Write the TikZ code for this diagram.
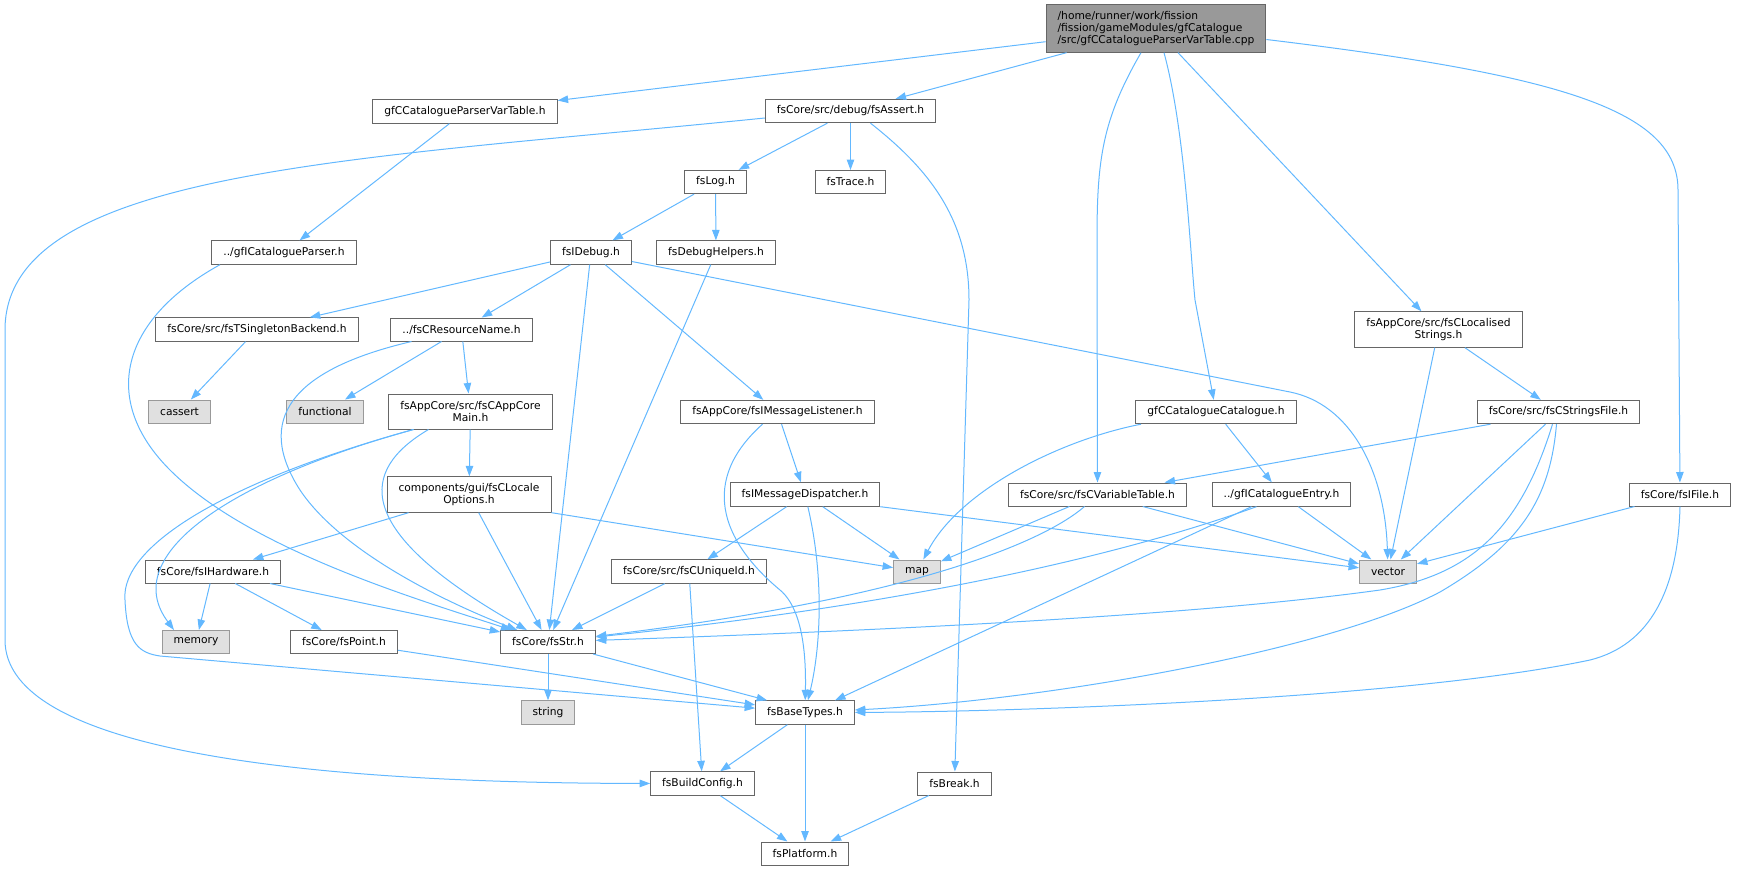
\documentclass[tikz,border=0pt]{standalone}
\usepackage{fontspec}
\setmainfont{DejaVu Sans}
\usepackage{tikz}
\usetikzlibrary{arrows.meta}
\usetikzlibrary{positioning}
\definecolor{edgeblue}{HTML}{63B8FF}
\definecolor{nodegray}{HTML}{666666}
\definecolor{extgray}{HTML}{999999}
\definecolor{extfill}{HTML}{E0E0E0}
\definecolor{rootfill}{HTML}{999999}
\tikzstyle{file_node}=[rectangle, draw=nodegray, fill=white, line width=1pt,
    inner xsep=11.5pt, inner ysep=6.5pt, minimum height=23pt, align=center,
    font=\fontsize{10.7pt}{12pt}\selectfont]
\tikzstyle{file_ext}=[file_node, draw=extgray, fill=extfill]
\tikzstyle{file_root}=[file_node, draw=nodegray, fill=rootfill, align=left]
\tikzstyle{two_lines}=[minimum height=35pt]
\tikzstyle{incl}=[draw=edgeblue, line width=1pt, -{Triangle[length=10.5pt,width=7.5pt]}]

\begin{document}
\begin{tikzpicture}[x=1pt, y=-1pt]
          \useasboundingbox (0,0) rectangle (1737,871);
          \node[file_root] (root) at (1156,28.5){/home/runner/work/fission\\/fission/gameModules/gfCatalogue\\/src/gfCCatalogueParserVarTable.cpp};
          \node[file_node] (pvt) at (465,111.5){gfCCatalogueParserVarTable.h};
          \node[file_node] (assert) at (850.5,111){fsCore/src/debug/fsAssert.h};
          \node[file_node] (log) at (715.5,182){fsLog.h};
          \node[file_node] (trace) at (850.5,182){fsTrace.h};
          \node[file_node] (parser) at (284,252.5){../gfICatalogueParser.h};
          \node[file_node] (idebug) at (591,252.5){fsIDebug.h};
          \node[file_node] (dbghelp) at (716,252.5){fsDebugHelpers.h};
          \node[file_node] (singleton) at (257,329.5){fsCore/src/fsTSingletonBackend.h};
          \node[file_node] (resname) at (461.5,329.5){../fsCResourceName.h};
          \node[file_node, two_lines] (localised) at (1438.5,329.5){fsAppCore/src/fsCLocalised\\Strings.h};
          \node[file_ext] (cassert) at (179.5,411.5){cassert};
          \node[file_ext] (functional) at (325,411.5){functional};
          \node[file_node, two_lines] (appcore) at (470.5,411.5){fsAppCore/src/fsCAppCore\\Main.h};
          \node[file_node] (listener) at (777.5,412){fsAppCore/fsIMessageListener.h};
          \node[file_node] (catalogue) at (1216,412){gfCCatalogueCatalogue.h};
          \node[file_node] (stringsfile) at (1558.5,412){fsCore/src/fsCStringsFile.h};
          \node[file_node, two_lines] (locopts) at (469,494.5){components/gui/fsCLocale\\Options.h};
          \node[file_node] (dispatcher) at (805,494.5){fsIMessageDispatcher.h};
          \node[file_node] (vartable) at (1097.5,494.5){fsCore/src/fsCVariableTable.h};
          \node[file_node] (entry) at (1281.5,494.5){../gfICatalogueEntry.h};
          \node[file_node] (ifile) at (1680,494.5){fsCore/fsIFile.h};
          \node[file_node] (hardware) at (213,571.5){fsCore/fsIHardware.h};
          \node[file_node] (uniqueid) at (689,571.5){fsCore/src/fsCUniqueId.h};
          \node[file_ext] (map) at (917,571.5){map};
          \node[file_ext] (vector) at (1388,571.5){vector};
          \node[file_ext] (memory) at (196,642){memory};
          \node[file_node] (point) at (344,642){fsCore/fsPoint.h};
          \node[file_node] (str) at (548,642){fsCore/fsStr.h};
          \node[file_ext] (string) at (548,712.5){string};
          \node[file_node] (basetypes) at (805,712.5){fsBaseTypes.h};
          \node[file_node] (buildconfig) at (702.5,783.5){fsBuildConfig.h};
          \node[file_node] (brk) at (954.5,783.5){fsBreak.h};
          \node[file_node] (platform) at (805,853.5){fsPlatform.h};
          \draw[incl](root) -- (pvt);
          \draw[incl](root) -- (assert);
          \draw[incl]([xshift=-15pt]root.south) .. controls (1102,120) and (1097,160) .. (1097,240) -- (vartable);
          \draw[incl]([xshift=8pt]root.south) .. controls (1185,130) and (1190,250) .. (1195,300) -- (catalogue);
          \draw[incl]([xshift=22pt]root.south) -- (localised);
          \draw[incl]([yshift=-11pt]root.east) .. controls (1560,75) and (1678,110) .. (1678,190) -- (ifile);
          \draw[incl](assert) -- (log);
          \draw[incl](assert) -- (trace);
          \draw[incl]([xshift=20pt]assert.south) .. controls (930,170) and (969,220) .. (969,300) -- (brk);
          \draw[incl]([yshift=-7pt]assert.west) .. controls (350,160) and (5,170) .. (5,330) -- (5,640) .. controls (5,740) and (250,783) .. (buildconfig);
          \draw[incl](pvt) -- (parser);
          \draw[incl]([xshift=-64pt]parser.south) .. controls (120,320) and (100,400) .. (170,470) .. controls (250,550) and (420,600) .. (str);
          \draw[incl](log) -- (idebug);
          \draw[incl](log) -- (dbghelp);
          \draw[incl](dbghelp) -- (str);
          \draw[incl](idebug) -- (singleton);
          \draw[incl](idebug) -- (resname);
          \draw[incl](idebug) -- (str);
          \draw[incl](idebug) -- (listener);
          \draw[incl]([yshift=-9pt]idebug.east) -- (1290,392) .. controls (1350,404) and (1385,470) .. (vector);
          \draw[incl](singleton) -- (cassert);
          \draw[incl](resname) -- (functional);
          \draw[incl](resname) -- (appcore);
          \draw[incl]([xshift=-50pt]resname.south) .. controls (290,370) and (255,420) .. (300,490) .. controls (340,550) and (440,600) .. (str);
          \draw[incl](appcore) -- (locopts);
          \draw[incl]([xshift=-57pt]appcore.south) .. controls (230,480) and (118,555) .. ([xshift=-22pt]memory.north);
          \draw[incl]([xshift=-57pt]appcore.south) .. controls (230,480) and (120,545) .. (125,600) .. controls (127,645) and (140,653) .. (160,656) -- (basetypes);
          \draw[incl]([xshift=-42pt]appcore.south) .. controls (360,470) and (350,530) .. (str);
          \draw[incl](locopts) -- (hardware);
          \draw[incl](locopts) -- (str);
          \draw[incl](locopts.south east) -- (map);
          \draw[incl](hardware) -- (memory);
          \draw[incl](hardware) -- (point);
          \draw[incl](hardware) -- (str);
          \draw[incl](listener) -- (dispatcher);
          \draw[incl]([xshift=-15pt]listener.south) .. controls (700,480) and (720,540) .. (780,590) .. controls (804,610) and (806,660) .. (basetypes);
          \draw[incl](dispatcher) -- (uniqueid);
          \draw[incl](dispatcher) .. controls (825,580) and (820,650) .. (basetypes);
          \draw[incl](dispatcher) -- (map);
          \draw[incl](dispatcher.south east) -- (vector);
          \draw[incl](uniqueid) -- (str);
          \draw[incl](uniqueid) -- (buildconfig);
          \draw[incl](point) -- (basetypes);
          \draw[incl](str) -- (string);
          \draw[incl](str) -- ([xshift=12pt]basetypes.north west);
          \draw[incl](basetypes) -- (buildconfig);
          \draw[incl](basetypes) -- (platform);
          \draw[incl](buildconfig) -- (platform);
          \draw[incl](brk) -- (platform);
          \draw[incl]([xshift=-75pt]catalogue.south) .. controls (1060,440) and (960,490) .. (map);
          \draw[incl](catalogue) -- (entry);
          \draw[incl](vartable) -- (map);
          \draw[incl]([xshift=-13pt]vartable.south) .. controls (1040,545) and (900,600) .. (str);
          \draw[incl](vartable) -- (vector);
          \draw[incl](entry) -- (vector);
          \draw[incl]([xshift=-25pt]entry.south) .. controls (1150,545) and (950,600) .. (str);
          \draw[incl]([xshift=-30pt]entry.south) -- ([xshift=30pt]basetypes.north);
          \draw[incl](stringsfile) -- (vartable);
          \draw[incl](stringsfile) -- (vector);
          \draw[incl]([xshift=-6pt]stringsfile.south) .. controls (1520,530) and (1470,575) .. (1380,590) .. controls (1200,615) and (900,630) .. (str);
          \draw[incl]([xshift=-2pt]stringsfile.south) .. controls (1550,500) and (1520,545) .. (1440,592) .. controls (1330,650) and (1050,700) .. (basetypes);
          \draw[incl](localised) -- (vector);
          \draw[incl](localised) -- (stringsfile);
          \draw[incl](ifile) -- (vector);
          \draw[incl](ifile.south) .. controls (1678,590) and (1650,645) .. (1590,660) .. controls (1400,700) and (1000,712) .. (basetypes);
        \end{tikzpicture}
\end{document}
